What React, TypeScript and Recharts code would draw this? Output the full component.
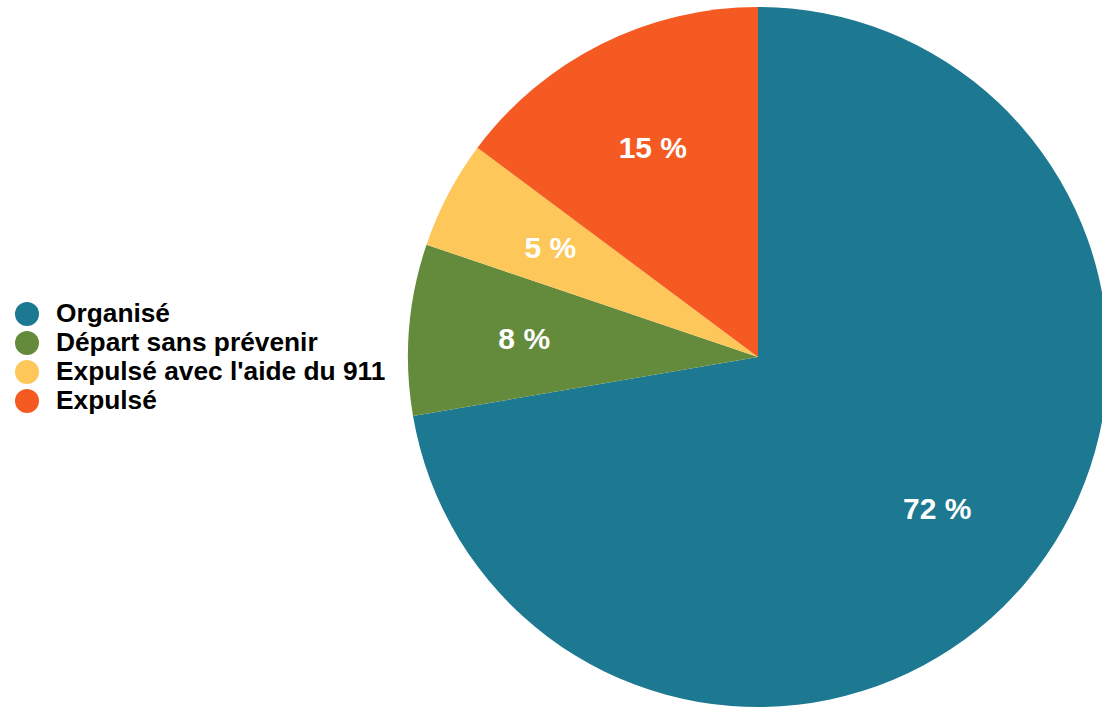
import { Cell, Pie, PieChart } from 'recharts'

const categories = ['Organisé', 'Départ sans prévenir', "Expulsé avec l'aide du 911", 'Expulsé']
const values = [72.3, 7.9, 5.0, 14.8]
const colors = ['#1d7891', '#648b3c', '#fec75a', '#f45a22']

const data = categories.map((name, i) => ({ name, value: values[i] }))

const RADIAN = Math.PI / 180
const FONT = "'Liberation Sans', Arial, sans-serif"

// étiquettes blanches à ~2/3 du rayon, au milieu de chaque part
function renderLabel(props: any) {
  const { cx, cy, midAngle, outerRadius, value } = props
  const r = outerRadius * 0.67
  const x = cx + r * Math.cos(-midAngle * RADIAN)
  const y = cy + r * Math.sin(-midAngle * RADIAN)
  return (
    <text
      x={x}
      y={y}
      fill="#fff"
      textAnchor="middle"
      dominantBaseline="central"
      fontSize={30}
      fontWeight="bold"
      fontFamily={FONT}
    >
      {`${Math.round(value)} %`}
    </text>
  )
}

// légende à gauche, en dehors du PieChart pour ne pas décaler le centre
function ChartLegend() {
  return (
    <div style={{ position: 'absolute', left: 0, top: 299, fontFamily: FONT }}>
      {categories.map((c, i) => (
        <div key={c} style={{ display: 'flex', alignItems: 'center', height: 29 }}>
          <span
            style={{
              width: 24,
              height: 24,
              borderRadius: '50%',
              background: colors[i],
              marginLeft: 15,
              marginRight: 17,
              flexShrink: 0,
            }}
          />
          <span style={{ fontSize: 26.3, fontWeight: 'bold', color: '#000', whiteSpace: 'nowrap', lineHeight: '29px' }}>
            {c}
          </span>
        </div>
      ))}
    </div>
  )
}

export default function App() {
  return (
    <div style={{ position: 'absolute', left: 0, top: 0, width: 1102, height: 709, overflow: 'hidden' }}>
      <PieChart width={1102} height={709} margin={{ top: 0, right: 0, bottom: 0, left: 0 }}>
        <Pie
          data={data}
          dataKey="value"
          nameKey="name"
          cx={758}
          cy={357}
          outerRadius={350}
          startAngle={90}
          endAngle={-270}
          stroke="none"
          label={renderLabel}
          labelLine={false}
          isAnimationActive={false}
        >
          {data.map((d, i) => (
            <Cell key={d.name} fill={colors[i]} />
          ))}
        </Pie>
      </PieChart>
      <ChartLegend />
    </div>
  )
}
